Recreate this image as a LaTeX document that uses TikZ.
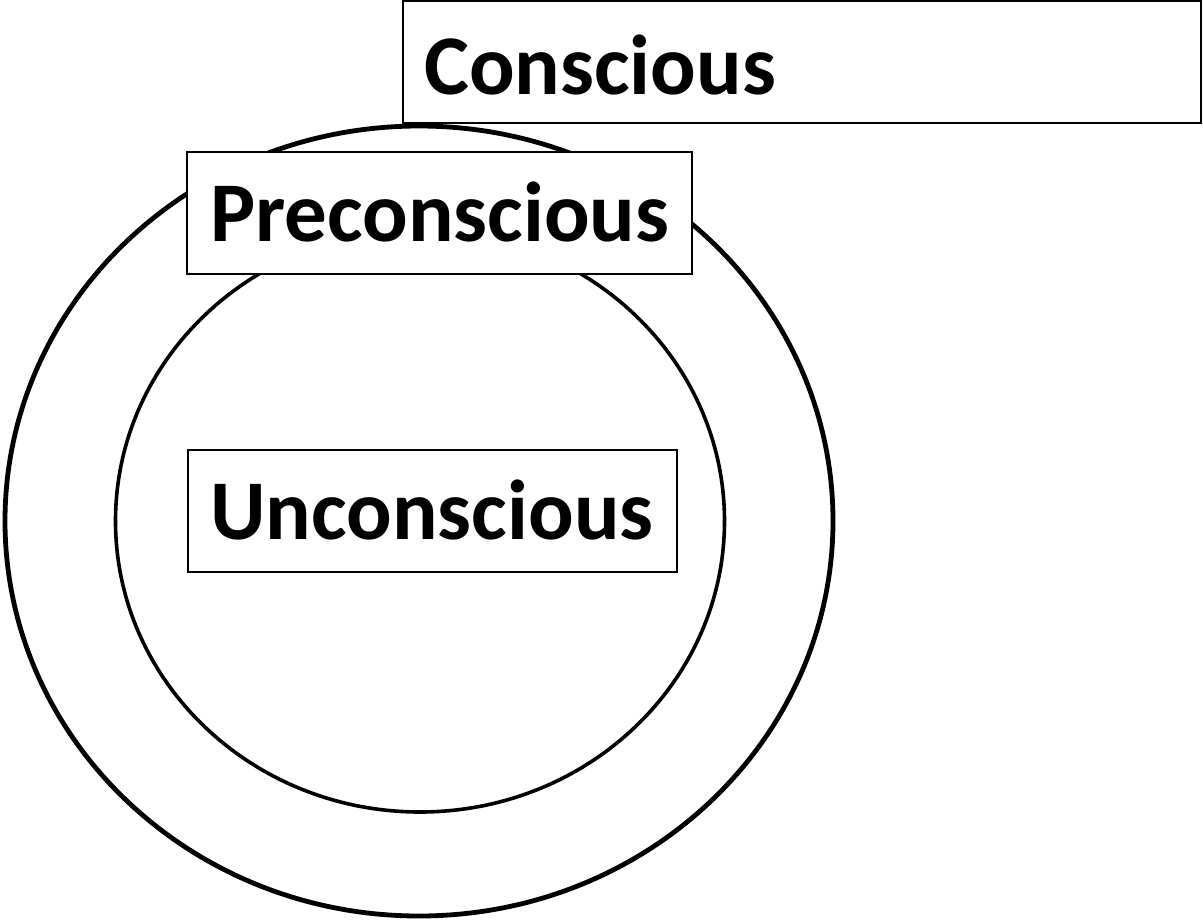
\documentclass[tikz,border=0pt]{standalone}
\usepackage{fontspec}
\setmainfont{Carlito}
\begin{document}
\begin{tikzpicture}[x=1pt,y=-1pt,
  lbl/.style={anchor=base west,inner sep=0pt,font=\bfseries\fontsize{85}{95}\selectfont},
  box/.style={draw=black,line width=2pt,fill=white}]
\useasboundingbox (0,0) rectangle (1203,922);
\draw[line width=4.8pt] (419,521) ellipse [x radius=414, y radius=395];
\draw[line width=3.6pt] (420,521) ellipse [x radius=304.5, y radius=291];
\draw[box] (403,1) rectangle (1201,123);
\draw[box] (187,152) rectangle (692,274);
\draw[box] (188,450) rectangle (677,572);
\node[lbl] (c) at (424,94) {Conscious};
\node[lbl] (p) at (210,241) {Preconscious};
\node[lbl] (u) at (210,539) {Unconscious};
\end{tikzpicture}
\end{document}
